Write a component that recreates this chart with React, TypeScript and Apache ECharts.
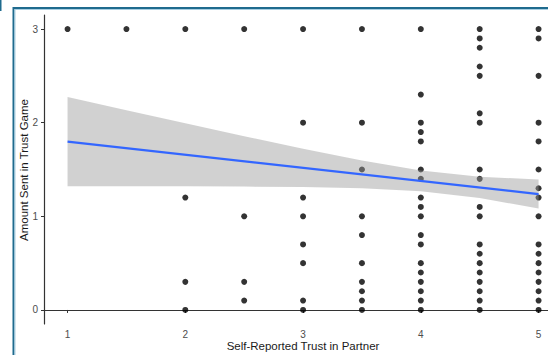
import React, { useEffect, useRef } from "react";
import * as echarts from "echarts";

// Scatter data: amounts sent, grouped by self-reported trust level
const trustLevels = [1, 1.5, 2, 2.5, 3, 3.5, 4, 4.5, 5];
const amountsByTrust: number[][] = [
  [3],
  [3],
  [3, 1.2, 0.3, 0],
  [3, 1.0, 0.3, 0.1],
  [3, 2, 1.2, 1.0, 0.7, 0.5, 0.1, 0],
  [3, 2, 1.5, 1.0, 0.8, 0.5, 0.3, 0.2, 0.1, 0],
  [3, 2.3, 2.0, 1.9, 1.8, 1.5, 1.4, 1.2, 1.1, 1.0, 0.8, 0.7, 0.5, 0.4, 0.3, 0.2, 0.1, 0],
  [3, 2.9, 2.8, 2.6, 2.5, 2.1, 2.0, 1.5, 1.4, 1.1, 1.0, 0.7, 0.6, 0.5, 0.4, 0.3, 0.2, 0.1, 0],
  [3, 2.9, 2.5, 2.0, 1.8, 1.5, 1.3, 1.2, 1.0, 0.7, 0.6, 0.5, 0.4, 0.3, 0.2, 0.1, 0],
];

// Linear fit and its confidence band
const fitX = [1, 5];
const fitY = [1.797, 1.238];
const bandX = [1, 1.5, 2, 2.5, 3, 3.5, 4, 4.5, 5];
const bandUpper = [2.273, 2.133, 1.994, 1.856, 1.722, 1.596, 1.488, 1.422, 1.393];
const bandLower = [1.321, 1.321, 1.32, 1.318, 1.312, 1.3, 1.268, 1.195, 1.083];

// Axis ticks
const xTicks = [1, 2, 3, 4, 5];
const yTicks = [0, 1, 2, 3];

const xTitle = "Self-Reported Trust in Partner";
const yTitle = "Amount Sent in Trust Game";

export default function App() {
  const ref = useRef<HTMLDivElement>(null);

  useEffect(() => {
    if (!ref.current) return;
    const chart = echarts.init(ref.current, undefined, { renderer: "svg" });

    const points: number[][] = [];
    trustLevels.forEach((t, i) => {
      amountsByTrust[i].forEach((a) => points.push([t, a]));
    });

    const bandPoly: number[][] = [];
    bandX.forEach((x, i) => bandPoly.push([x, bandUpper[i]]));
    for (let i = bandX.length - 1; i >= 0; i--) bandPoly.push([bandX[i], bandLower[i]]);

    const axisColor = "#333333";
    const labelColor = "#4d4d4d";
    const font = "'Liberation Sans', Arial, sans-serif";

    chart.setOption({
      animation: false,
      backgroundColor: "#ffffff",
      grid: { left: 44, right: 0, top: 15, bottom: 31, containLabel: false },
      xAxis: {
        type: "value",
        min: 0.8,
        max: 5.08,
        splitLine: { show: false },
        axisLine: { show: true, lineStyle: { color: axisColor, width: 1.2 } },
        axisTick: { show: true, length: 3, customValues: xTicks, lineStyle: { color: axisColor } },
        axisLabel: {
          customValues: xTicks,
          color: labelColor,
          fontSize: 10,
          fontFamily: font,
          margin: 5,
        },
      },
      yAxis: {
        type: "value",
        min: -0.15,
        max: 3.15,
        splitLine: { show: false },
        axisLine: { show: true, lineStyle: { color: axisColor, width: 1.2 } },
        axisTick: { show: true, length: 3, customValues: yTicks, lineStyle: { color: axisColor } },
        axisLabel: {
          customValues: yTicks,
          color: labelColor,
          fontSize: 10,
          fontFamily: font,
          margin: 6,
        },
      },
      graphic: [
        { type: "rect", shape: { x: 0, y: 0, width: 1.5, height: 11 }, style: { fill: "#1f6b8e" } },
        { type: "line", shape: { x1: 13, y1: 8, x2: 548, y2: 8 }, style: { stroke: "#1f6b8e", lineWidth: 2 } },
        { type: "line", shape: { x1: 15, y1: 9.5, x2: 548, y2: 9.5 }, style: { stroke: "#a9cfe2", lineWidth: 1 } },
        { type: "line", shape: { x1: 13.5, y1: 7, x2: 13.5, y2: 355 }, style: { stroke: "#1f6b8e", lineWidth: 2 } },
        { type: "line", shape: { x1: 15, y1: 9, x2: 15, y2: 355 }, style: { stroke: "#a9cfe2", lineWidth: 1 } },
        {
          type: "text",
          x: 303,
          y: 346,
          style: {
            text: xTitle,
            fill: "#1a1a1a",
            fontSize: 11.5,
            fontFamily: font,
            textAlign: "center",
            textVerticalAlign: "middle",
          },
        },
        {
          type: "text",
          x: 24,
          y: 170,
          rotation: Math.PI / 2,
          style: {
            text: yTitle,
            fill: "#1a1a1a",
            fontSize: 11.5,
            fontFamily: font,
            textAlign: "center",
            textVerticalAlign: "middle",
          },
        },
      ],
      series: [
        {
          type: "scatter",
          data: points,
          symbol: "circle",
          symbolSize: 6,
          itemStyle: { color: "#000000" },
          z: 2,
        },
        {
          type: "custom",
          data: [[bandX[0], bandLower[0]]],
          z: 3,
          silent: true,
          renderItem: (params: any, api: any) => {
            if (params.dataIndex !== 0) return null;
            const pts = bandPoly.map((p) => api.coord(p));
            return {
              type: "polygon",
              shape: { points: pts },
              style: { fill: "rgba(153,153,153,0.45)", stroke: "none" },
            };
          },
        },
        {
          type: "line",
          data: fitX.map((x, i) => [x, fitY[i]]),
          showSymbol: false,
          lineStyle: { color: "#3366FF", width: 2.2 },
          itemStyle: { color: "#3366FF" },
          z: 4,
        },
      ],
    });

    return () => chart.dispose();
  }, []);

  return (
    <div
      ref={ref}
      style={{ position: "fixed", left: 0, top: 0, width: 548, height: 355 }}
    />
  );
}
